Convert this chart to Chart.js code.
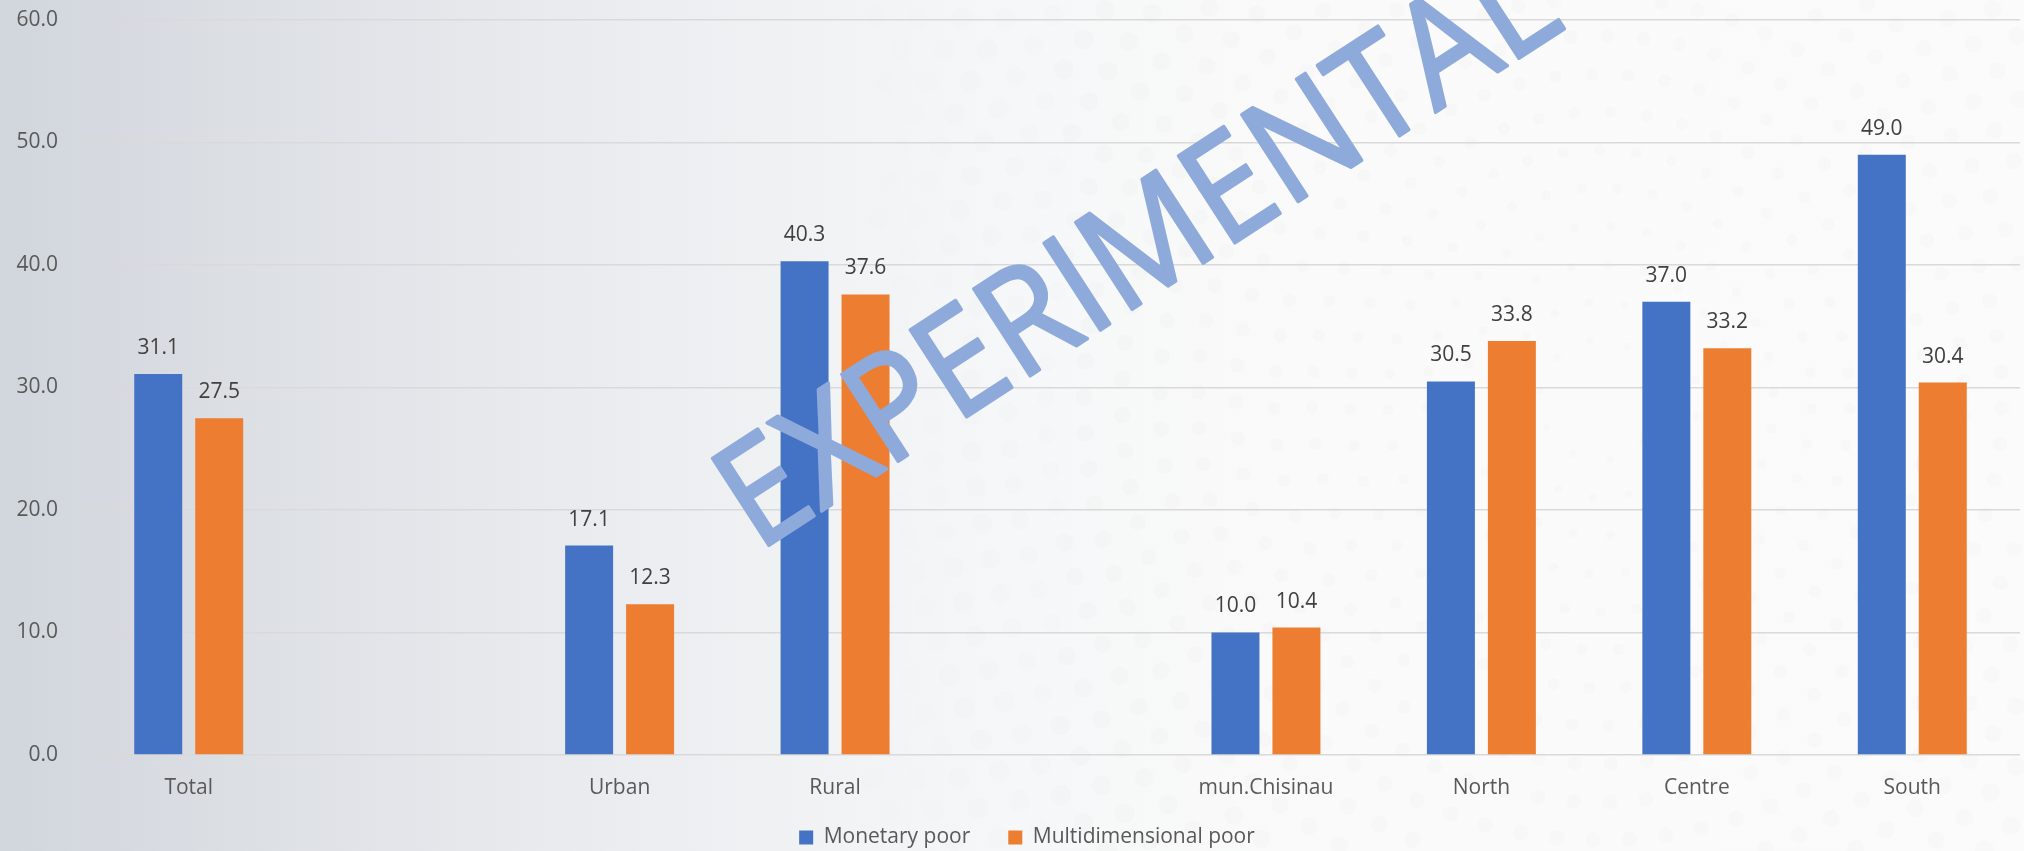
<!DOCTYPE html>
<html><head><meta charset="utf-8">
<script src="https://cdn.jsdelivr.net/npm/chart.js@4.4.0/dist/chart.umd.min.js"></script>
<style>
html,body{margin:0;padding:0;width:2024px;height:851px;overflow:hidden;
background:linear-gradient(90deg,#d1d6dd 0%,#dcdfe4 12%,#e7e9ed 25%,#f0f1f3 38%,#f6f7f8 50%,#fafafa 65%,#fbfbfb 100%);}
#wrap{position:relative;width:2024px;height:851px;}
</style></head><body>
<div id="wrap"><canvas id="c" width="2024" height="851"></canvas></div>
<script>
const categories = ['Total', '', 'Urban', 'Rural', '', 'mun.Chisinau', 'North', 'Centre', 'South'];
const monetaryPoor = [31.1, null, 17.1, 40.3, null, 10.0, 30.5, 37.0, 49.0];
const multidimensionalPoor = [27.5, null, 12.3, 37.6, null, 10.4, 33.8, 33.2, 30.4];
const yTicks = [0, 10, 20, 30, 40, 50, 60];
const seriesNames = ['Monetary poor', 'Multidimensional poor'];
const watermarkText = 'EXPERIMENTAL';

const FONT = '"Open Sans", "Noto Sans", sans-serif';

const backdrop = {
  id: 'backdrop',
  beforeDraw(chart) {
    const ctx = chart.ctx;
    ctx.save();
    const cx = 1600, cy = 400;
    for (let r = 60; r < 1100; r += 38) {
      const n = Math.floor(2 * Math.PI * r / 36);
      const dotR = 3 + Math.min(r, 700) / 90;
      for (let k = 0; k < n; k++) {
        const a = k / n * 2 * Math.PI + r * 0.013;
        const x = cx + r * Math.cos(a), y = cy + r * Math.sin(a);
        if (x < 820 || x > 2024 || y < 0 || y > 851) continue;
        const fade = Math.min(1, (x - 820) / 300);
        ctx.fillStyle = 'rgba(150,150,155,' + (0.032 * fade).toFixed(3) + ')';
        ctx.beginPath();
        ctx.arc(x, y, dotR, 0, 2 * Math.PI);
        ctx.fill();
      }
    }
    ctx.restore();
  }
};

const layoutTweak = {
  id: 'layoutTweak',
  afterLayout(chart) {
    if (chart.legend) { chart.legend.left += 17; chart.legend.right += 17; }
    const xs = chart.scales.x;
    if (xs) { xs.bottom += 20; xs.height += 20; }
  }
};

const dataLabels = {
  id: 'dataLabels',
  afterDatasetsDraw(chart) {
    const ctx = chart.ctx;
    ctx.save();
    ctx.font = '21px ' + FONT;
    ctx.fillStyle = '#404040';
    ctx.textAlign = 'center';
    ctx.textBaseline = 'middle';
    chart.data.datasets.forEach((ds, i) => {
      const meta = chart.getDatasetMeta(i);
      meta.data.forEach((el, j) => {
        const v = ds.data[j];
        if (v === null || v === undefined) return;
        ctx.fillText(v.toFixed(1), el.x, el.y - 26);
      });
    });
    ctx.restore();
  }
};

const watermark = {
  id: 'watermark',
  afterDraw(chart) {
    const ctx = chart.ctx;
    ctx.save();
    ctx.translate(1140, 255);
    ctx.rotate(-33 * Math.PI / 180);
    ctx.font = '145px ' + FONT;
    const w = ctx.measureText(watermarkText).width;
    ctx.scale(965 / w, 1);
    ctx.fillStyle = '#8eaadb';
    ctx.strokeStyle = '#8eaadb';
    ctx.lineWidth = 3.5;
    ctx.lineJoin = 'round';
    ctx.textAlign = 'center';
    ctx.textBaseline = 'middle';
    ctx.fillText(watermarkText, 0, 0);
    ctx.strokeText(watermarkText, 0, 0);
    ctx.restore();
  }
};

new Chart(document.getElementById('c'), {
  type: 'bar',
  data: {
    labels: categories,
    datasets: [
      { label: seriesNames[0], data: monetaryPoor, backgroundColor: '#4472c4', borderWidth: 0,
        categoryPercentage: 0.566, barPercentage: 0.787 },
      { label: seriesNames[1], data: multidimensionalPoor, backgroundColor: '#ed7d31', borderWidth: 0,
        categoryPercentage: 0.566, barPercentage: 0.787 }
    ]
  },
  options: {
    responsive: false,
    animation: false,
    devicePixelRatio: 1,
    layout: { padding: { top: 20, right: 4, left: 0, bottom: -7 } },
    plugins: {
      legend: {
        position: 'bottom',
        labels: {
          boxWidth: 14, boxHeight: 14, padding: 38,
          color: '#595959',
          font: { family: FONT, size: 21 }
        }
      },
      tooltip: { enabled: false }
    },
    scales: {
      x: {
        grid: { display: false, drawTicks: false },
        border: { display: false },
        ticks: { color: '#595959', font: { family: FONT, size: 21 }, padding: 20, autoSkip: false, maxRotation: 0 },
        afterFit(s) { s.height = 34; }
      },
      y: {
        min: 0, max: 60,
        afterBuildTicks(s) { s.ticks = yTicks.map(v => ({ value: v })); },
        grid: { color: '#d9d9d9', lineWidth: 1.5, drawTicks: false },
        border: { display: false },
        ticks: { color: '#595959', font: { family: FONT, size: 21 }, padding: 23,
                 callback: v => Number(v).toFixed(1) },
        afterFit(s) { s.width = 81; s.paddingTop = 0; s.paddingBottom = 0; }
      }
    }
  },
  plugins: [backdrop, layoutTweak, dataLabels, watermark]
});
</script>
</body></html>
